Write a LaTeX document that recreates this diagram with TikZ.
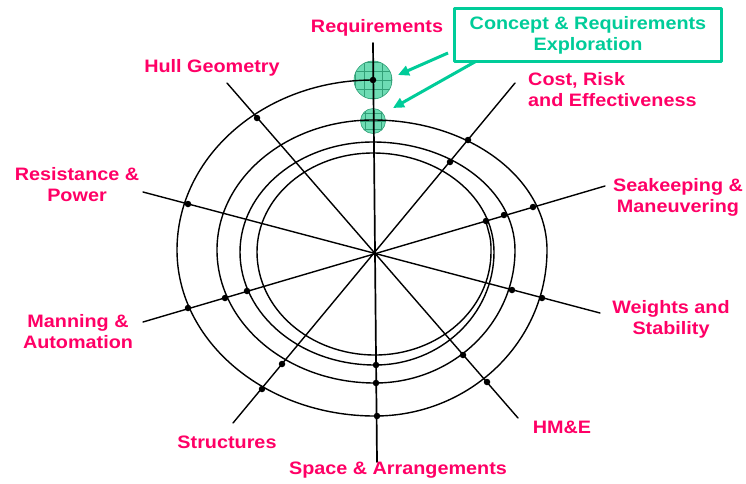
\documentclass[tikz,border=0pt]{standalone}
\usepackage{fontspec}
\setmainfont{Liberation Sans}[FakeStretch=1.1]
\usetikzlibrary{arrows.meta,calc}
\definecolor{lab}{RGB}{255,0,102}
\definecolor{grn}{RGB}{0,204,153}
\definecolor{cfill}{RGB}{110,220,180}
\definecolor{cgrid}{RGB}{50,160,120}
\begin{document}
\begin{tikzpicture}[x=1pt,y=-1pt,line join=round,line cap=round,
  spoke/.style={line width=1.4pt,black},
  spiral/.style={line width=1.4pt,black},
  dot/.style={circle,fill=black,inner sep=0pt,minimum size=6.5pt},
  lbl/.style={text=lab,font=\fontsize{18}{21}\selectfont\bfseries,align=center,inner sep=0pt},
  gar/.style={grn,line width=3pt,line cap=butt,-{Triangle[length=11pt,width=10pt]}},
  bubble/.style={circle,draw=cgrid,line width=0.6pt,fill=cfill,inner sep=0pt}]

\path[use as bounding box,fill=white] (0,0) rectangle (746,483);

% spoke end points
\coordinate (vt) at (373,43);  \coordinate (vb) at (377,462);
\coordinate (h1) at (227,83);  \coordinate (h2) at (518,418);
\coordinate (c1) at (515,83);  \coordinate (c2) at (233,423);
\coordinate (k1) at (605,186); \coordinate (k2) at (143,322);
\coordinate (r1) at (143,192); \coordinate (r2) at (600,313);

% spiral key points
\coordinate (s0) at (373,80);   \coordinate (s1) at (177,250);
\coordinate (s2) at (375,416);  \coordinate (s3) at (547,250);
\coordinate (s4) at (373,120);  \coordinate (s5) at (217,250);
\coordinate (s6) at (375,383);  \coordinate (s7) at (515,250);
\coordinate (s8) at (373,142);  \coordinate (s9) at (240,252);
\coordinate (s10) at (375,365); \coordinate (s11) at (494,252);
\coordinate (s12) at (373,153); \coordinate (s13) at (257,252);
\coordinate (s14) at (375,355); \coordinate (s15) at (491,252);
\coordinate (s16) at (486,222);

% green bubbles
\node[bubble,minimum size=38pt,path picture={
  \foreach \d in {-18,-9,0,9,18}{
    \draw[cgrid,line width=0.5pt] ($(path picture bounding box.center)+(\d,-22)$) -- ++(0,44);
    \draw[cgrid,line width=0.5pt] ($(path picture bounding box.center)+(-22,\d)$) -- ++(44,0);}
  }] (big) at (373,80) {};
\node[bubble,minimum size=25pt,path picture={
  \foreach \d in {-8,0,8}{
    \draw[cgrid,line width=0.5pt] ($(path picture bounding box.center)+(\d,-15)$) -- ++(0,30);
    \draw[cgrid,line width=0.5pt] ($(path picture bounding box.center)+(-15,\d)$) -- ++(30,0);}
  }] (small) at (373,121) {};

% spokes
\draw[spoke,line width=1.7pt] (vt) -- (vb);
\draw[spoke] (h1) -- (h2);
\draw[spoke] (c1) -- (c2);
\draw[spoke] (k1) -- (k2);
\draw[spoke] (r1) -- (r2);

% spiral
\draw[spiral] (s0)
  .. controls ($(s0)!0.5523!(s1|-s0)$) and ($(s1)!0.5523!(s1|-s0)$) .. (s1)
  .. controls ($(s1)!0.5523!(s1|-s2)$) and ($(s2)!0.5523!(s1|-s2)$) .. (s2)
  .. controls ($(s2)!0.5523!(s3|-s2)$) and ($(s3)!0.5523!(s3|-s2)$) .. (s3)
  .. controls ($(s3)!0.5523!(s3|-s4)$) and ($(s4)!0.5523!(s3|-s4)$) .. (s4)
  .. controls ($(s4)!0.5523!(s5|-s4)$) and ($(s5)!0.5523!(s5|-s4)$) .. (s5)
  .. controls ($(s5)!0.5523!(s5|-s6)$) and ($(s6)!0.5523!(s5|-s6)$) .. (s6)
  .. controls ($(s6)!0.5523!(s7|-s6)$) and ($(s7)!0.5523!(s7|-s6)$) .. (s7)
  .. controls ($(s7)!0.5523!(s7|-s8)$) and ($(s8)!0.5523!(s7|-s8)$) .. (s8)
  .. controls ($(s8)!0.5523!(s9|-s8)$) and ($(s9)!0.5523!(s9|-s8)$) .. (s9)
  .. controls ($(s9)!0.5523!(s9|-s10)$) and ($(s10)!0.5523!(s9|-s10)$) .. (s10)
  .. controls ($(s10)!0.5523!(s11|-s10)$) and ($(s11)!0.5523!(s11|-s10)$) .. (s11)
  .. controls ($(s11)!0.5523!(s11|-s12)$) and ($(s12)!0.5523!(s11|-s12)$) .. (s12)
  .. controls ($(s12)!0.5523!(s13|-s12)$) and ($(s13)!0.5523!(s13|-s12)$) .. (s13)
  .. controls ($(s13)!0.5523!(s13|-s14)$) and ($(s14)!0.5523!(s13|-s14)$) .. (s14)
  .. controls ($(s14)!0.5523!(s15|-s14)$) and ($(s15)!0.5523!(s15|-s14)$) .. (s15)
  .. controls (491,240) .. (s16);

% dots
\foreach \p [count=\i] in {(373,80),(257,118),(468,140),(450,162),(533,207),(504,215),(486,221),
  (512,290),(542,298),(463,355),(487,382),(376,365),(376,383),(377,416),(282,364),(262,389),
  (247,291),(225,298),(188,308),(188,204)}
  \node[dot] (d\i) at \p {};

% labels
\node[lbl] (lreq) at (377,28) {Requirements};
\node[lbl] (lhull) at (212,68) {Hull Geometry};
\node[lbl,align=left,anchor=west] (lcost) at (528,90) {Cost, Risk\\and Effectiveness};
\node[lbl] (lsea) at (678,197) {Seakeeping \&\\Maneuvering};
\node[lbl] (lwei) at (671,319) {Weights and\\Stability};
\node[lbl] (lhme) at (562,427) {HM\&E};
\node[lbl] (lspa) at (398,470) {Space \& Arrangements};
\node[lbl] (lstr) at (227,442) {Structures};
\node[lbl] (lman) at (78,332) {Manning \&\\Automation};
\node[lbl] (lres) at (77,185) {Resistance \&\\Power};

% concept box and arrows
\coordinate (a1s) at (448,53); \coordinate (a1e) at (398,75);
\coordinate (a2s) at (480,59); \coordinate (a2e) at (393,108);
\draw[gar] (a1s) -- (a1e);
\draw[gar] (a2s) -- (a2e);
\node[draw=grn,line width=3pt,fill=white,minimum width=267pt,minimum height=53pt,inner sep=0pt,
  text=grn,font=\fontsize{18}{21}\selectfont\bfseries,align=center] (box) at (588,35)
  {Concept \& Requirements\\Exploration};
\end{tikzpicture}
\end{document}
